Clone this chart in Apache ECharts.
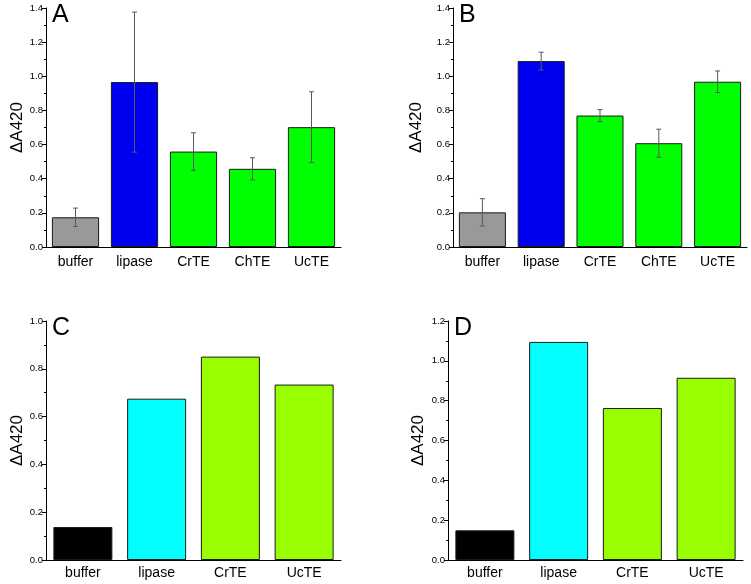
<!DOCTYPE html>
<html><head><meta charset="utf-8">
<script src="https://cdn.jsdelivr.net/npm/echarts@6/dist/echarts.min.js"></script>
<style>html,body{margin:0;padding:0;background:#fff}#c{width:751px;height:584px}</style>
</head><body><div id="c"></div>
<script>
var catsAB = ['buffer','lipase','CrTE','ChTE','UcTE'];
var catsCD = ['buffer','lipase','CrTE','UcTE'];
var valA = [0.174, 0.966, 0.559, 0.458, 0.702];
var errA = [0.054, 0.41, 0.11, 0.065, 0.207];
var valB = [0.203, 1.089, 0.770, 0.608, 0.968];
var errB = [0.080, 0.052, 0.035, 0.082, 0.063];
var valC = [0.138, 0.675, 0.851, 0.734];
var valD = [0.149, 1.095, 0.763, 0.915];
var colorsAB = ['#999999','#0000f0','#00ff00','#00ff00','#00ff00'];
var colorsCD = ['#000000','#00ffff','#99ff00','#99ff00'];
var panelLetters = ['A','B','C','D'];
var yMax = [1.4, 1.4, 1.0, 1.2];

var FONT = '"Liberation Sans", Arial, sans-serif';
var grids = [
  {left:46, top:8, width:295, height:239},
  {left:453, top:8, width:294, height:239},
  {left:46, top:321, width:295, height:239},
  {left:448, top:321, width:295, height:239}
];
var nameGap = [20, 28, 20, 21];
var catsList = [catsAB, catsAB, catsCD, catsCD];
var valsList = [valA, valB, valC, valD];
var errsList = [errA, errB, null, null];
var colorsList = [colorsAB, colorsAB, colorsCD, colorsCD];

var xAxis = [], yAxis = [], series = [], graphic = [];
grids.forEach(function(g, i){
  var cats = catsList[i];
  xAxis.push({
    type:'category', gridIndex:i, data:cats, position:'bottom',
    axisLine:{lineStyle:{color:'#000', width:1}},
    axisTick:{alignWithLabel:true, length:4, lineStyle:{color:'#000'}},
    axisLabel:{fontFamily:FONT, fontSize:14, color:'#000', margin:i<2?8:6},
    splitLine:{show:false}
  });
  xAxis.push({
    type:'category', gridIndex:i, data:cats, position:'bottom',
    axisLine:{show:false},
    axisTick:{alignWithLabel:false, length:2, lineStyle:{color:'#000'}},
    axisLabel:{show:false}, splitLine:{show:false}
  });
  yAxis.push({
    type:'value', gridIndex:i, min:0, max:yMax[i], interval:0.2,
    name:'\u0394A420', nameLocation:'middle', nameGap:nameGap[i],
    nameTextStyle:{fontFamily:FONT, fontSize:17, color:'#000'},
    axisLine:{show:true, lineStyle:{color:'#000', width:1}},
    axisTick:{show:true, length:4, lineStyle:{color:'#000'}},
    minorTick:{show:true, splitNumber:2, length:2, lineStyle:{color:'#000'}},
    axisLabel:{fontFamily:FONT, fontSize:9.5, color:'#000', margin:3,
      formatter:function(v){return v.toFixed(1);}},
    splitLine:{show:false}
  });
  var vals = valsList[i], cols = colorsList[i];
  series.push({
    type:'bar', xAxisIndex:2*i, yAxisIndex:i, barCategoryGap:'20%',
    data: vals.map(function(v, k){
      return {value:v, itemStyle:{color:cols[k], borderColor:'#1a1a1a', borderWidth:1}};
    }),
    animation:false, silent:true
  });
  var errs = errsList[i];
  if (errs) {
    series.push({
      type:'custom', xAxisIndex:2*i, yAxisIndex:i, z:5, animation:false, silent:true,
      data: vals.map(function(v, k){ return [k, v - errs[k], v + errs[k]]; }),
      renderItem: function(params, api){
        var x = api.value(0);
        var lo = api.coord([x, api.value(1)]);
        var hi = api.coord([x, api.value(2)]);
        var hw = 2.5;
        var st = {stroke:'#5a5a5a', lineWidth:1};
        return {type:'group', children:[
          {type:'line', shape:{x1:lo[0], y1:lo[1], x2:hi[0], y2:hi[1]}, style:st},
          {type:'line', shape:{x1:hi[0]-hw, y1:hi[1], x2:hi[0]+hw, y2:hi[1]}, style:st},
          {type:'line', shape:{x1:lo[0]-hw, y1:lo[1], x2:lo[0]+hw, y2:lo[1]}, style:st}
        ]};
      }
    });
  }
  graphic.push({
    type:'text', left:g.left + 6, top:g.top - 5,
    style:{text:panelLetters[i], fontFamily:FONT, fontSize:25, fill:'#000'}
  });
});

var chart = echarts.init(document.getElementById('c'), null, {renderer:'canvas'});
chart.setOption({
  animation:false,
  grid: grids.map(function(g){ return Object.assign({containLabel:false}, g); }),
  xAxis: xAxis, yAxis: yAxis, series: series, graphic: graphic
});
</script></body></html>
